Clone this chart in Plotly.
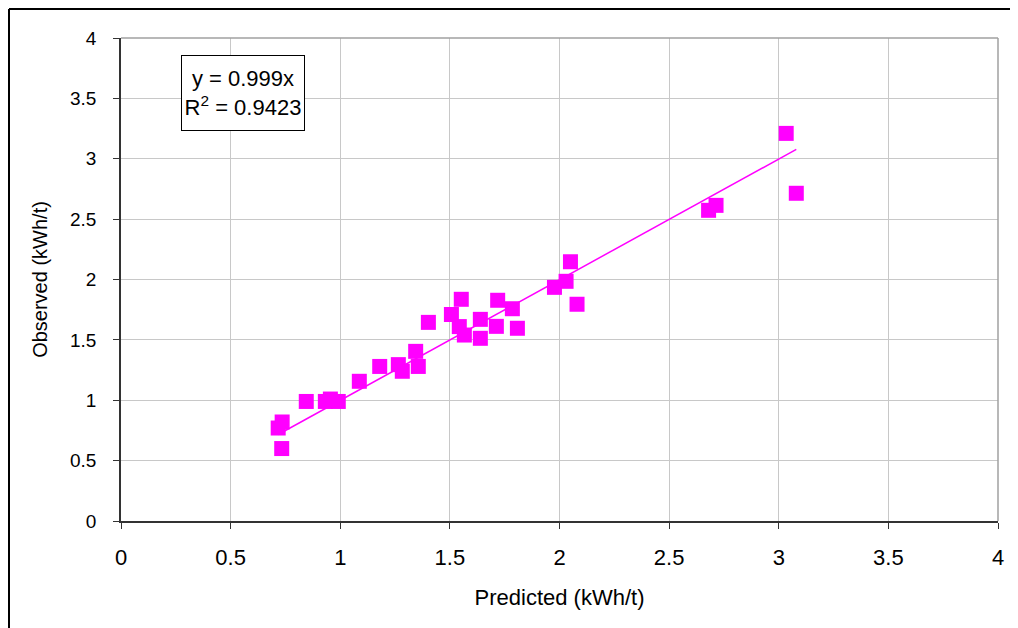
import plotly.graph_objects as go

predicted = [0.717, 0.735, 0.733, 0.845, 0.932, 0.955, 0.991, 1.087, 1.18, 1.265,
             1.283, 1.344, 1.356, 1.402, 1.507, 1.552, 1.543, 1.566, 1.639, 1.639,
             1.718, 1.712, 1.785, 1.808, 1.977, 2.03, 2.05, 2.08, 2.68, 2.714,
             3.034, 3.08]
observed = [0.77, 0.82, 0.60, 0.99, 0.99, 1.01, 0.99, 1.157, 1.28, 1.295,
            1.24, 1.405, 1.28, 1.645, 1.71, 1.836, 1.61, 1.54, 1.67, 1.513,
            1.828, 1.612, 1.758, 1.596, 1.935, 1.985, 2.147, 1.795, 2.573, 2.614,
            3.21, 2.714]
slope = 0.999
r2 = 0.9423
tick_vals = [0, 0.5, 1, 1.5, 2, 2.5, 3, 3.5, 4]
tick_text = ["0", "0.5", "1", "1.5", "2", "2.5", "3", "3.5", "4"]

MAG = "#FF00FF"
FONT = "Liberation Sans, Arial, sans-serif"

fig = go.Figure()
x_line = [min(predicted), max(predicted)]
fig.add_trace(go.Scatter(x=x_line, y=[slope * v for v in x_line], mode="lines",
                         line=dict(color=MAG, width=1.5), showlegend=False,
                         hoverinfo="skip"))
fig.add_trace(go.Scatter(x=predicted, y=observed, mode="markers",
                         marker=dict(symbol="square", size=15, color=MAG,
                                     line=dict(width=0)),
                         showlegend=False))

axis_common = dict(range=[0, 4], tickvals=tick_vals, ticktext=tick_text,
                   showgrid=True, gridcolor="#c8c8c8", gridwidth=1,
                   zeroline=False, ticks="outside", ticklen=6, tickwidth=1,
                   tickcolor="#333333", showline=True, linecolor="#333333",
                   linewidth=1.5)

fig.update_xaxes(**axis_common, ticklabelstandoff=10,
                 tickfont=dict(family=FONT, size=22, color="#000"),
                 title=dict(text="Predicted (kWh/t)", font=dict(family=FONT, size=22, color="#000"),
                            standoff=20))
fig.update_yaxes(**axis_common, ticklabelstandoff=13,
                 tickfont=dict(family=FONT, size=19, color="#000"),
                 title=dict(text="Observed (kWh/t)", font=dict(family=FONT, size=20, color="#000"),
                            standoff=17))

pw, ph = 877.0, 483.0
L, T = 113, 30
W, H = 1010, 620
fig.add_shape(type="line", xref="paper", yref="paper", x0=0, x1=1, y0=1, y1=1,
              line=dict(color="#a0a0a0", width=1.5))
fig.add_shape(type="line", xref="paper", yref="paper", x0=1, x1=1, y0=0, y1=1,
              line=dict(color="#a0a0a0", width=1.5))
# outer chart frame (left and top edges)
fx = (1 - L) / pw
fy = (T + ph - 1) / ph
fig.add_shape(type="line", xref="paper", yref="paper", x0=fx, x1=fx, y0=-0.3, y1=fy,
              line=dict(color="#000", width=2))
fig.add_shape(type="line", xref="paper", yref="paper", x0=fx, x1=1.1, y0=fy, y1=fy,
              line=dict(color="#000", width=2))

fig.add_annotation(xref="paper", yref="paper", x=(181 - 121) / pw, y=(521 - 55) / ph,
                   xanchor="left", yanchor="top", align="center", valign="middle",
                   width=120, height=72,
                   text=f"y = {slope}x<br>R<sup>2</sup> = {r2}",
                   showarrow=False, font=dict(family=FONT, size=22, color="#000"),
                   bordercolor="#000", borderwidth=1, borderpad=1, bgcolor="#fff")

fig.update_layout(width=W, height=H, plot_bgcolor="#fff", paper_bgcolor="#fff",
                  margin=dict(l=L, r=W - L - 877, t=T, b=H - T - 483),
                  showlegend=False)

fig.write_html("out.html")
